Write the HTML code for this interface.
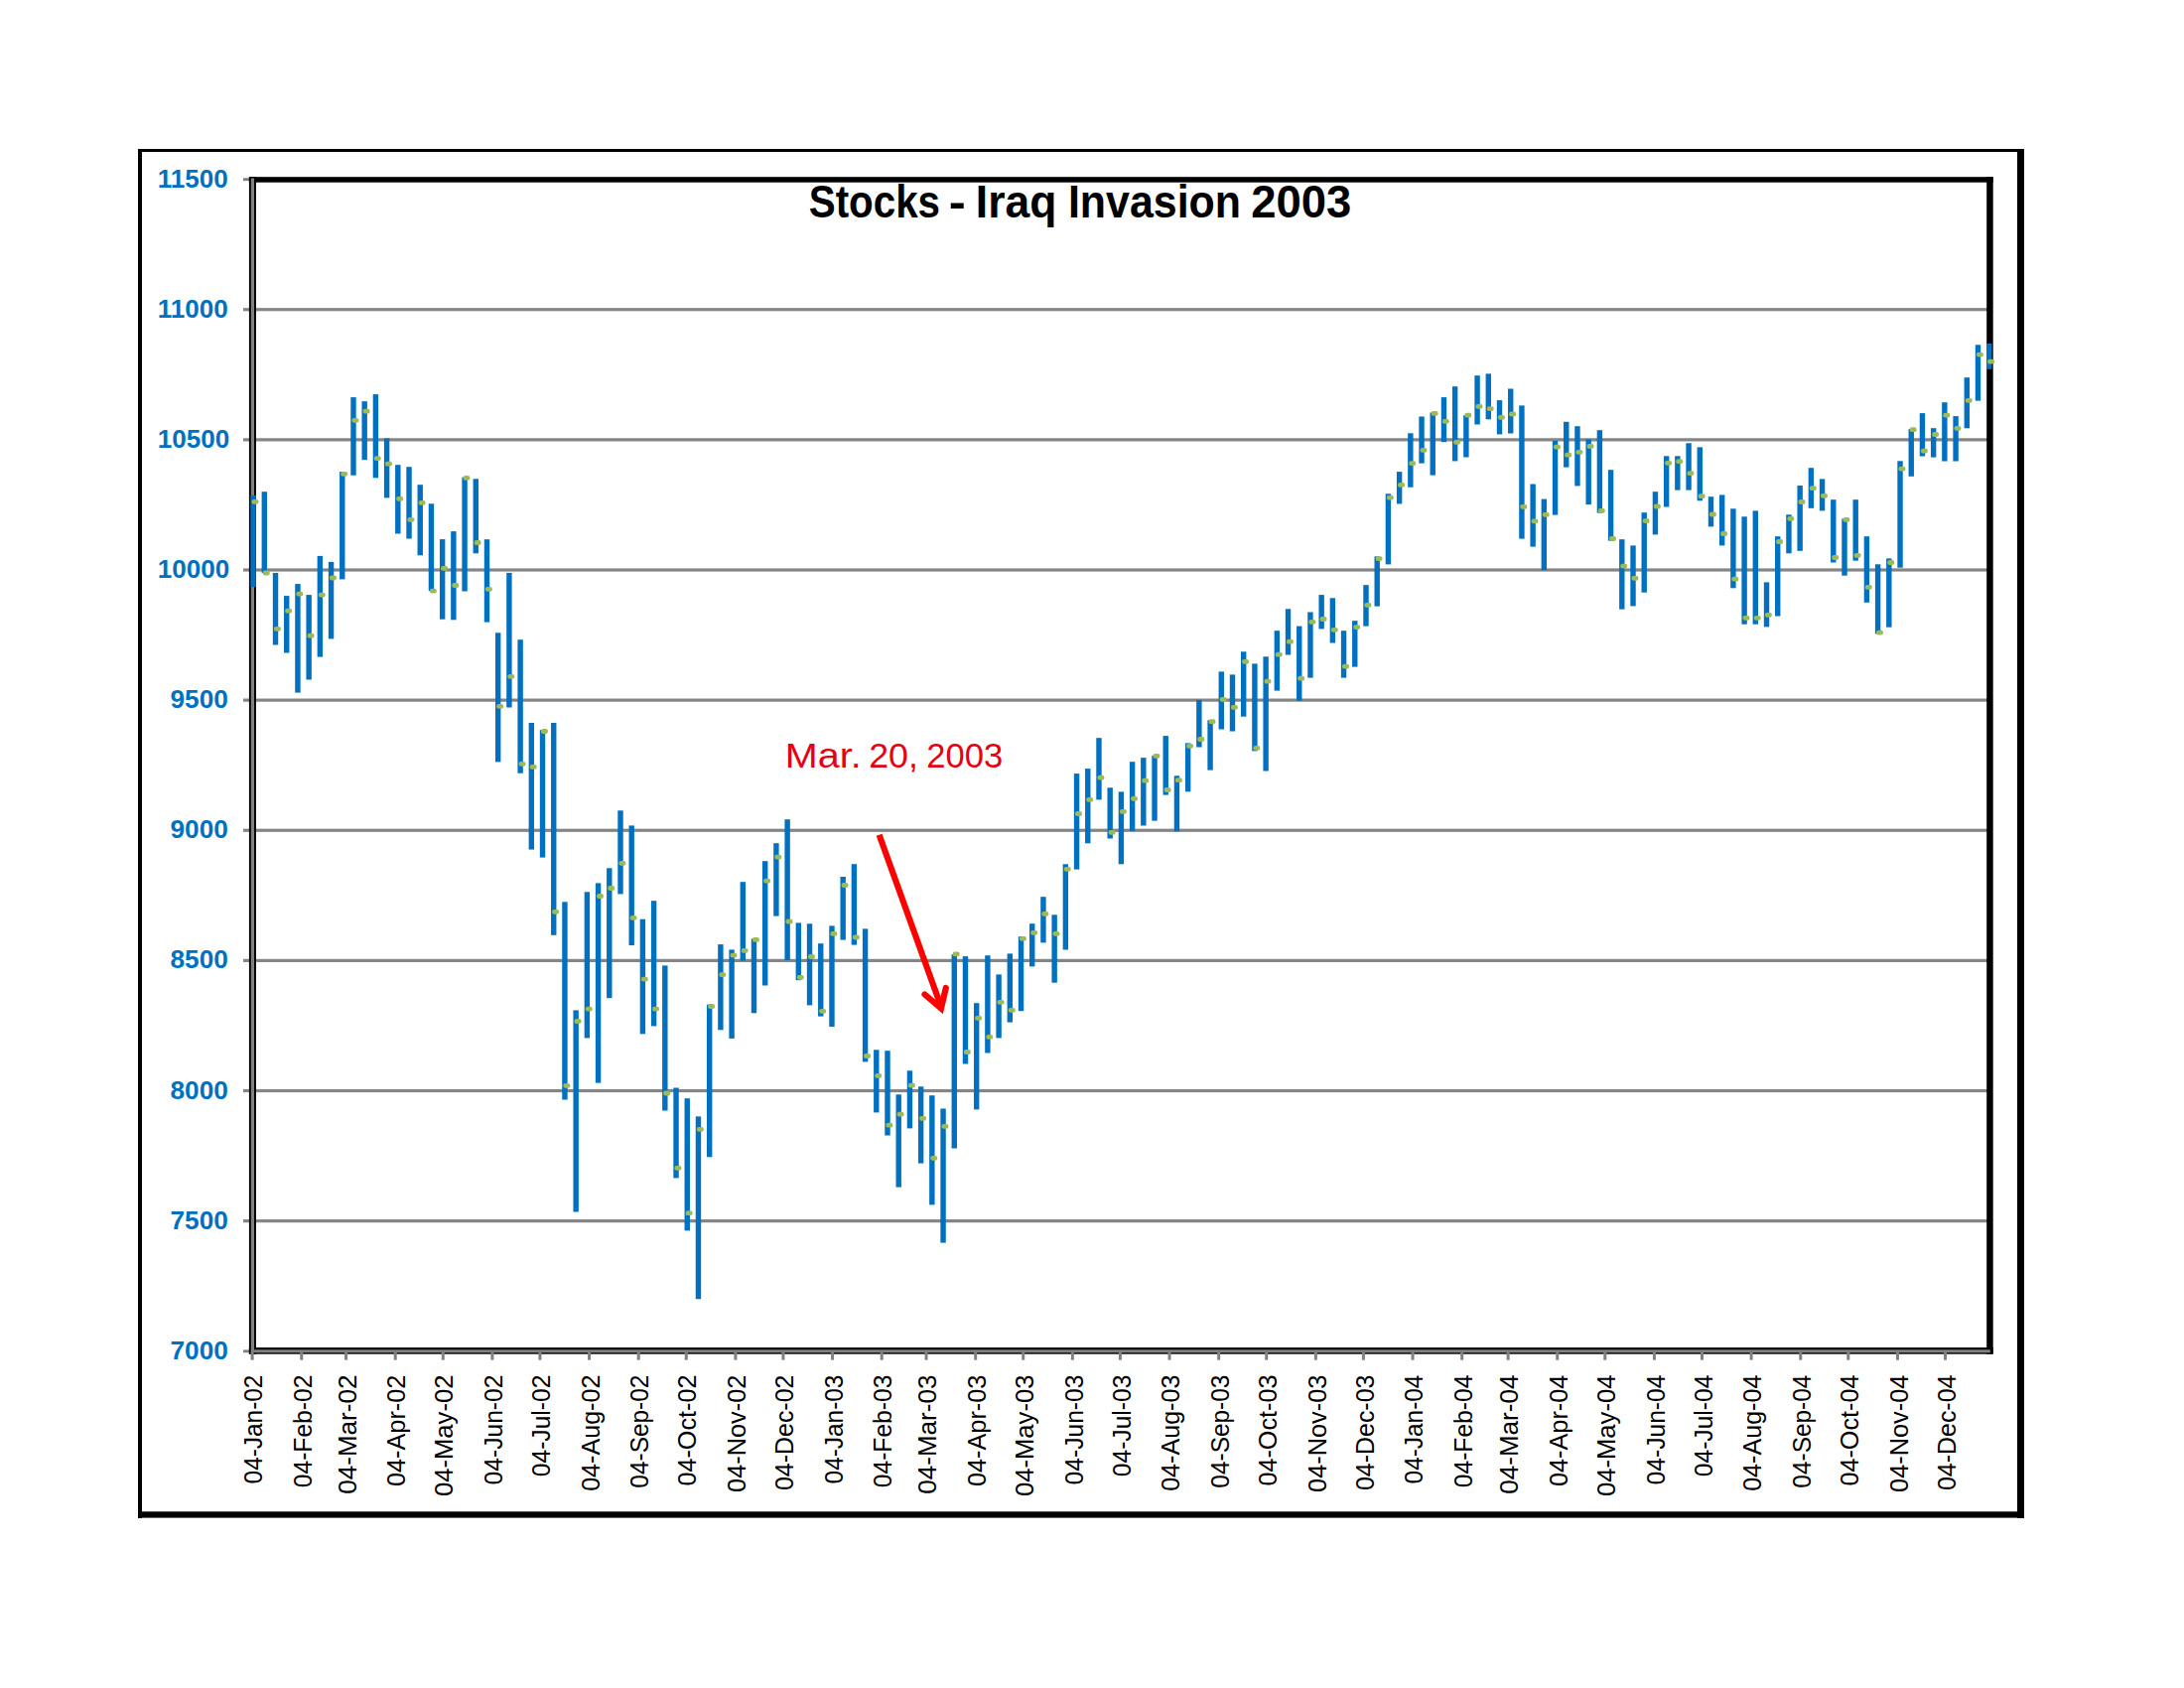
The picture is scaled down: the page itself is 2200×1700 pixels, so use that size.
<!DOCTYPE html>
<html><head><meta charset="utf-8"><title>Stocks - Iraq Invasion 2003</title>
<style>html,body{margin:0;padding:0;background:#fff;width:2200px;height:1700px;overflow:hidden}</style>
</head><body>
<svg width="2200" height="1700" viewBox="0 0 2200 1700" style="display:block">
<rect x="0" y="0" width="2200" height="1700" fill="#fff"/>
<g fill="#000">
<rect x="139" y="150" width="1900" height="3"/>
<rect x="139" y="150" width="4" height="1379"/>
<rect x="2032" y="150" width="7" height="1379"/>
<rect x="139" y="1522.3" width="1900" height="6.3"/>
</g>
<text transform="matrix(0.26031,0,0,0.25775,158.84,188.70)" x="0" y="0" font-family="'Liberation Sans', sans-serif" font-weight="bold" font-size="100" fill="#0070c0">11500</text>
<text transform="matrix(0.26031,0,0,0.25775,158.84,319.83)" x="0" y="0" font-family="'Liberation Sans', sans-serif" font-weight="bold" font-size="100" fill="#0070c0">11000</text>
<text transform="matrix(0.26031,0,0,0.25775,158.84,450.96)" x="0" y="0" font-family="'Liberation Sans', sans-serif" font-weight="bold" font-size="100" fill="#0070c0">10500</text>
<text transform="matrix(0.26031,0,0,0.25775,158.84,582.09)" x="0" y="0" font-family="'Liberation Sans', sans-serif" font-weight="bold" font-size="100" fill="#0070c0">10000</text>
<text transform="matrix(0.26168,0,0,0.25775,171.55,713.22)" x="0" y="0" font-family="'Liberation Sans', sans-serif" font-weight="bold" font-size="100" fill="#0070c0">9500</text>
<text transform="matrix(0.26168,0,0,0.25775,171.55,844.35)" x="0" y="0" font-family="'Liberation Sans', sans-serif" font-weight="bold" font-size="100" fill="#0070c0">9000</text>
<text transform="matrix(0.26168,0,0,0.25775,171.55,975.48)" x="0" y="0" font-family="'Liberation Sans', sans-serif" font-weight="bold" font-size="100" fill="#0070c0">8500</text>
<text transform="matrix(0.26168,0,0,0.25775,171.55,1106.61)" x="0" y="0" font-family="'Liberation Sans', sans-serif" font-weight="bold" font-size="100" fill="#0070c0">8000</text>
<text transform="matrix(0.26168,0,0,0.25775,171.55,1237.74)" x="0" y="0" font-family="'Liberation Sans', sans-serif" font-weight="bold" font-size="100" fill="#0070c0">7500</text>
<text transform="matrix(0.26168,0,0,0.25775,171.55,1368.87)" x="0" y="0" font-family="'Liberation Sans', sans-serif" font-weight="bold" font-size="100" fill="#0070c0">7000</text>
<g fill="#858585">
<rect x="245" y="310.13" width="1757" height="3.2"/>
<rect x="245" y="441.26" width="1757" height="3.2"/>
<rect x="245" y="572.39" width="1757" height="3.2"/>
<rect x="245" y="703.52" width="1757" height="3.2"/>
<rect x="245" y="834.65" width="1757" height="3.2"/>
<rect x="245" y="965.78" width="1757" height="3.2"/>
<rect x="245" y="1096.91" width="1757" height="3.2"/>
<rect x="245" y="1228.04" width="1757" height="3.2"/>
</g>
<rect x="245" y="179.30" width="10" height="2.8" fill="#808080"/>
<rect x="245" y="1359.47" width="10" height="2.8" fill="#808080"/>
<g fill="#000">
<rect x="250.9" y="178.2" width="1756.8" height="5.5"/>
<rect x="2001.2" y="178.2" width="6.5" height="1185.5"/>
<rect x="250.9" y="178.2" width="7.1" height="1185.5"/>
<rect x="250.9" y="1357.1" width="1756.8" height="6.6"/>
</g>
<rect x="252.8" y="179.5" width="3.2" height="1182.8" fill="#808080"/>
<rect x="252.8" y="1359.3" width="1752" height="3.0" fill="#808080"/>
<g fill="#808080">
<rect x="252.60" y="1362" width="3" height="7.7"/>
<rect x="302.24" y="1362" width="3" height="7.7"/>
<rect x="347.08" y="1362" width="3" height="7.7"/>
<rect x="396.72" y="1362" width="3" height="7.7"/>
<rect x="444.76" y="1362" width="3" height="7.7"/>
<rect x="494.40" y="1362" width="3" height="7.7"/>
<rect x="542.44" y="1362" width="3" height="7.7"/>
<rect x="592.08" y="1362" width="3" height="7.7"/>
<rect x="641.72" y="1362" width="3" height="7.7"/>
<rect x="689.75" y="1362" width="3" height="7.7"/>
<rect x="739.40" y="1362" width="3" height="7.7"/>
<rect x="787.43" y="1362" width="3" height="7.7"/>
<rect x="837.07" y="1362" width="3" height="7.7"/>
<rect x="886.71" y="1362" width="3" height="7.7"/>
<rect x="931.55" y="1362" width="3" height="7.7"/>
<rect x="981.19" y="1362" width="3" height="7.7"/>
<rect x="1029.23" y="1362" width="3" height="7.7"/>
<rect x="1078.87" y="1362" width="3" height="7.7"/>
<rect x="1126.91" y="1362" width="3" height="7.7"/>
<rect x="1176.55" y="1362" width="3" height="7.7"/>
<rect x="1226.19" y="1362" width="3" height="7.7"/>
<rect x="1274.23" y="1362" width="3" height="7.7"/>
<rect x="1323.87" y="1362" width="3" height="7.7"/>
<rect x="1371.91" y="1362" width="3" height="7.7"/>
<rect x="1421.55" y="1362" width="3" height="7.7"/>
<rect x="1471.19" y="1362" width="3" height="7.7"/>
<rect x="1517.63" y="1362" width="3" height="7.7"/>
<rect x="1567.27" y="1362" width="3" height="7.7"/>
<rect x="1615.31" y="1362" width="3" height="7.7"/>
<rect x="1664.95" y="1362" width="3" height="7.7"/>
<rect x="1712.99" y="1362" width="3" height="7.7"/>
<rect x="1762.63" y="1362" width="3" height="7.7"/>
<rect x="1812.27" y="1362" width="3" height="7.7"/>
<rect x="1860.31" y="1362" width="3" height="7.7"/>
<rect x="1909.95" y="1362" width="3" height="7.7"/>
<rect x="1957.98" y="1362" width="3" height="7.7"/>
</g>
<g font-family="'Liberation Sans', sans-serif" font-size="25" fill="#000" text-anchor="end">
<text transform="translate(264.30,1384.6) rotate(-90) scale(0.976,1)" x="0" y="0">04-Jan-02</text>
<text transform="translate(313.94,1384.6) rotate(-90) scale(0.986,1)" x="0" y="0">04-Feb-02</text>
<text transform="translate(358.78,1384.6) rotate(-90) scale(1.042,1)" x="0" y="0">04-Mar-02</text>
<text transform="translate(408.42,1384.6) rotate(-90) scale(1.012,1)" x="0" y="0">04-Apr-02</text>
<text transform="translate(456.46,1384.6) rotate(-90) scale(1.024,1)" x="0" y="0">04-May-02</text>
<text transform="translate(506.10,1384.6) rotate(-90) scale(0.985,1)" x="0" y="0">04-Jun-02</text>
<text transform="translate(554.14,1384.6) rotate(-90) scale(0.985,1)" x="0" y="0">04-Jul-02</text>
<text transform="translate(603.78,1384.6) rotate(-90) scale(1.005,1)" x="0" y="0">04-Aug-02</text>
<text transform="translate(653.42,1384.6) rotate(-90) scale(0.977,1)" x="0" y="0">04-Sep-02</text>
<text transform="translate(701.45,1384.6) rotate(-90) scale(1.007,1)" x="0" y="0">04-Oct-02</text>
<text transform="translate(751.10,1384.6) rotate(-90) scale(1.014,1)" x="0" y="0">04-Nov-02</text>
<text transform="translate(799.13,1384.6) rotate(-90) scale(0.998,1)" x="0" y="0">04-Dec-02</text>
<text transform="translate(848.77,1384.6) rotate(-90) scale(0.976,1)" x="0" y="0">04-Jan-03</text>
<text transform="translate(898.41,1384.6) rotate(-90) scale(0.986,1)" x="0" y="0">04-Feb-03</text>
<text transform="translate(943.25,1384.6) rotate(-90) scale(1.042,1)" x="0" y="0">04-Mar-03</text>
<text transform="translate(992.89,1384.6) rotate(-90) scale(1.012,1)" x="0" y="0">04-Apr-03</text>
<text transform="translate(1040.93,1384.6) rotate(-90) scale(1.024,1)" x="0" y="0">04-May-03</text>
<text transform="translate(1090.57,1384.6) rotate(-90) scale(0.985,1)" x="0" y="0">04-Jun-03</text>
<text transform="translate(1138.61,1384.6) rotate(-90) scale(0.985,1)" x="0" y="0">04-Jul-03</text>
<text transform="translate(1188.25,1384.6) rotate(-90) scale(1.005,1)" x="0" y="0">04-Aug-03</text>
<text transform="translate(1237.89,1384.6) rotate(-90) scale(0.977,1)" x="0" y="0">04-Sep-03</text>
<text transform="translate(1285.93,1384.6) rotate(-90) scale(1.007,1)" x="0" y="0">04-Oct-03</text>
<text transform="translate(1335.57,1384.6) rotate(-90) scale(1.014,1)" x="0" y="0">04-Nov-03</text>
<text transform="translate(1383.61,1384.6) rotate(-90) scale(0.998,1)" x="0" y="0">04-Dec-03</text>
<text transform="translate(1433.25,1384.6) rotate(-90) scale(0.976,1)" x="0" y="0">04-Jan-04</text>
<text transform="translate(1482.89,1384.6) rotate(-90) scale(0.986,1)" x="0" y="0">04-Feb-04</text>
<text transform="translate(1529.33,1384.6) rotate(-90) scale(1.042,1)" x="0" y="0">04-Mar-04</text>
<text transform="translate(1578.97,1384.6) rotate(-90) scale(1.012,1)" x="0" y="0">04-Apr-04</text>
<text transform="translate(1627.01,1384.6) rotate(-90) scale(1.024,1)" x="0" y="0">04-May-04</text>
<text transform="translate(1676.65,1384.6) rotate(-90) scale(0.985,1)" x="0" y="0">04-Jun-04</text>
<text transform="translate(1724.69,1384.6) rotate(-90) scale(0.985,1)" x="0" y="0">04-Jul-04</text>
<text transform="translate(1774.33,1384.6) rotate(-90) scale(1.005,1)" x="0" y="0">04-Aug-04</text>
<text transform="translate(1823.97,1384.6) rotate(-90) scale(0.977,1)" x="0" y="0">04-Sep-04</text>
<text transform="translate(1872.01,1384.6) rotate(-90) scale(1.007,1)" x="0" y="0">04-Oct-04</text>
<text transform="translate(1921.65,1384.6) rotate(-90) scale(1.014,1)" x="0" y="0">04-Nov-04</text>
<text transform="translate(1969.68,1384.6) rotate(-90) scale(0.998,1)" x="0" y="0">04-Dec-04</text>
</g>
<g fill="#0070c0">
<rect x="252.40" y="498.8" width="5.4" height="92.3"/>
<rect x="263.61" y="495.2" width="5.4" height="81.8"/>
<rect x="274.82" y="577.0" width="5.4" height="72.5"/>
<rect x="286.03" y="600.1" width="5.4" height="57.4"/>
<rect x="297.24" y="588.1" width="5.4" height="109.5"/>
<rect x="308.44" y="599.1" width="5.4" height="85.4"/>
<rect x="319.65" y="559.9" width="5.4" height="101.7"/>
<rect x="330.86" y="565.9" width="5.4" height="77.5"/>
<rect x="342.07" y="475.1" width="5.4" height="108.3"/>
<rect x="353.28" y="400.1" width="5.4" height="78.6"/>
<rect x="364.49" y="404.2" width="5.4" height="59.0"/>
<rect x="375.70" y="397.1" width="5.4" height="84.2"/>
<rect x="386.91" y="441.4" width="5.4" height="60.0"/>
<rect x="398.12" y="468.2" width="5.4" height="69.3"/>
<rect x="409.33" y="470.2" width="5.4" height="72.3"/>
<rect x="420.54" y="488.2" width="5.4" height="71.1"/>
<rect x="431.74" y="507.3" width="5.4" height="87.8"/>
<rect x="442.95" y="543.1" width="5.4" height="80.6"/>
<rect x="454.16" y="535.1" width="5.4" height="89.2"/>
<rect x="465.37" y="480.7" width="5.4" height="114.8"/>
<rect x="476.58" y="482.3" width="5.4" height="75.0"/>
<rect x="487.79" y="543.2" width="5.4" height="83.4"/>
<rect x="499.00" y="637.3" width="5.4" height="130.1"/>
<rect x="510.21" y="576.9" width="5.4" height="135.6"/>
<rect x="521.42" y="644.2" width="5.4" height="134.5"/>
<rect x="532.62" y="728.0" width="5.4" height="127.6"/>
<rect x="543.83" y="735.2" width="5.4" height="128.4"/>
<rect x="555.04" y="728.0" width="5.4" height="213.8"/>
<rect x="566.25" y="908.3" width="5.4" height="199.2"/>
<rect x="577.46" y="1017.4" width="5.4" height="203.1"/>
<rect x="588.67" y="898.3" width="5.4" height="147.1"/>
<rect x="599.88" y="889.4" width="5.4" height="201.2"/>
<rect x="611.09" y="874.3" width="5.4" height="130.9"/>
<rect x="622.30" y="816.3" width="5.4" height="84.1"/>
<rect x="633.51" y="831.4" width="5.4" height="120.6"/>
<rect x="644.71" y="925.7" width="5.4" height="115.6"/>
<rect x="655.92" y="907.2" width="5.4" height="126.2"/>
<rect x="667.13" y="972.4" width="5.4" height="146.1"/>
<rect x="678.34" y="1095.5" width="5.4" height="90.9"/>
<rect x="689.55" y="1106.2" width="5.4" height="133.2"/>
<rect x="700.76" y="1124.4" width="5.4" height="183.9"/>
<rect x="711.97" y="1011.7" width="5.4" height="153.6"/>
<rect x="723.18" y="951.1" width="5.4" height="86.2"/>
<rect x="734.39" y="956.4" width="5.4" height="89.5"/>
<rect x="745.60" y="888.2" width="5.4" height="79.4"/>
<rect x="756.80" y="945.4" width="5.4" height="74.9"/>
<rect x="768.01" y="867.2" width="5.4" height="125.3"/>
<rect x="779.22" y="849.2" width="5.4" height="73.4"/>
<rect x="790.43" y="825.2" width="5.4" height="141.9"/>
<rect x="801.64" y="929.4" width="5.4" height="57.8"/>
<rect x="812.85" y="930.3" width="5.4" height="82.1"/>
<rect x="824.06" y="950.2" width="5.4" height="73.4"/>
<rect x="835.27" y="932.4" width="5.4" height="101.6"/>
<rect x="846.48" y="883.0" width="5.4" height="63.6"/>
<rect x="857.69" y="870.2" width="5.4" height="81.4"/>
<rect x="868.89" y="935.4" width="5.4" height="134.0"/>
<rect x="880.10" y="1057.3" width="5.4" height="63.1"/>
<rect x="891.31" y="1058.2" width="5.4" height="85.3"/>
<rect x="902.52" y="1102.3" width="5.4" height="93.3"/>
<rect x="913.73" y="1078.3" width="5.4" height="58.1"/>
<rect x="924.94" y="1094.3" width="5.4" height="77.3"/>
<rect x="936.15" y="1103.2" width="5.4" height="110.2"/>
<rect x="947.36" y="1116.5" width="5.4" height="135.1"/>
<rect x="958.57" y="961.3" width="5.4" height="195.2"/>
<rect x="969.78" y="963.1" width="5.4" height="108.4"/>
<rect x="980.98" y="1010.2" width="5.4" height="107.2"/>
<rect x="992.19" y="962.2" width="5.4" height="98.3"/>
<rect x="1003.40" y="981.4" width="5.4" height="64.0"/>
<rect x="1014.61" y="960.4" width="5.4" height="69.2"/>
<rect x="1025.82" y="943.2" width="5.4" height="75.0"/>
<rect x="1037.03" y="930.2" width="5.4" height="43.2"/>
<rect x="1048.24" y="903.2" width="5.4" height="46.2"/>
<rect x="1059.45" y="921.3" width="5.4" height="68.4"/>
<rect x="1070.66" y="870.3" width="5.4" height="86.2"/>
<rect x="1081.87" y="779.1" width="5.4" height="96.5"/>
<rect x="1093.07" y="774.1" width="5.4" height="75.2"/>
<rect x="1104.28" y="743.2" width="5.4" height="62.2"/>
<rect x="1115.49" y="793.3" width="5.4" height="51.2"/>
<rect x="1126.70" y="797.4" width="5.4" height="72.9"/>
<rect x="1137.91" y="767.2" width="5.4" height="69.7"/>
<rect x="1149.12" y="763.1" width="5.4" height="68.4"/>
<rect x="1160.33" y="760.9" width="5.4" height="65.7"/>
<rect x="1171.54" y="741.1" width="5.4" height="59.5"/>
<rect x="1182.75" y="781.3" width="5.4" height="56.0"/>
<rect x="1193.96" y="748.4" width="5.4" height="48.9"/>
<rect x="1205.16" y="704.9" width="5.4" height="47.6"/>
<rect x="1216.37" y="725.3" width="5.4" height="50.3"/>
<rect x="1227.58" y="676.4" width="5.4" height="58.1"/>
<rect x="1238.79" y="679.4" width="5.4" height="57.1"/>
<rect x="1250.00" y="656.3" width="5.4" height="65.4"/>
<rect x="1261.21" y="668.4" width="5.4" height="88.0"/>
<rect x="1272.42" y="661.3" width="5.4" height="115.2"/>
<rect x="1283.63" y="635.2" width="5.4" height="60.4"/>
<rect x="1294.84" y="613.3" width="5.4" height="46.2"/>
<rect x="1306.05" y="630.6" width="5.4" height="75.2"/>
<rect x="1317.25" y="616.5" width="5.4" height="66.1"/>
<rect x="1328.46" y="599.1" width="5.4" height="34.3"/>
<rect x="1339.67" y="602.3" width="5.4" height="45.2"/>
<rect x="1350.88" y="635.2" width="5.4" height="47.4"/>
<rect x="1362.09" y="625.2" width="5.4" height="46.4"/>
<rect x="1373.30" y="589.2" width="5.4" height="41.4"/>
<rect x="1384.51" y="560.4" width="5.4" height="50.2"/>
<rect x="1395.72" y="497.3" width="5.4" height="71.1"/>
<rect x="1406.93" y="475.1" width="5.4" height="32.3"/>
<rect x="1418.14" y="436.3" width="5.4" height="54.4"/>
<rect x="1429.34" y="419.5" width="5.4" height="47.1"/>
<rect x="1440.55" y="415.5" width="5.4" height="63.1"/>
<rect x="1451.76" y="400.1" width="5.4" height="45.1"/>
<rect x="1462.97" y="389.2" width="5.4" height="75.2"/>
<rect x="1474.18" y="418.2" width="5.4" height="42.3"/>
<rect x="1485.39" y="378.2" width="5.4" height="49.3"/>
<rect x="1496.60" y="376.4" width="5.4" height="45.9"/>
<rect x="1507.81" y="403.1" width="5.4" height="34.3"/>
<rect x="1519.02" y="391.5" width="5.4" height="45.0"/>
<rect x="1530.23" y="408.4" width="5.4" height="134.2"/>
<rect x="1541.43" y="487.5" width="5.4" height="63.1"/>
<rect x="1552.64" y="502.6" width="5.4" height="71.7"/>
<rect x="1563.85" y="444.0" width="5.4" height="74.6"/>
<rect x="1575.06" y="424.8" width="5.4" height="45.8"/>
<rect x="1586.27" y="429.2" width="5.4" height="60.2"/>
<rect x="1597.48" y="442.4" width="5.4" height="65.8"/>
<rect x="1608.69" y="433.2" width="5.4" height="83.4"/>
<rect x="1619.90" y="473.2" width="5.4" height="71.4"/>
<rect x="1631.11" y="543.2" width="5.4" height="70.4"/>
<rect x="1642.32" y="549.4" width="5.4" height="61.0"/>
<rect x="1653.52" y="516.2" width="5.4" height="80.5"/>
<rect x="1664.73" y="495.2" width="5.4" height="43.2"/>
<rect x="1675.94" y="459.3" width="5.4" height="51.2"/>
<rect x="1687.15" y="459.3" width="5.4" height="34.3"/>
<rect x="1698.36" y="446.3" width="5.4" height="47.3"/>
<rect x="1709.57" y="450.4" width="5.4" height="53.9"/>
<rect x="1720.78" y="500.2" width="5.4" height="30.2"/>
<rect x="1731.99" y="498.4" width="5.4" height="51.0"/>
<rect x="1743.20" y="512.3" width="5.4" height="80.0"/>
<rect x="1754.41" y="520.3" width="5.4" height="108.4"/>
<rect x="1765.61" y="514.4" width="5.4" height="114.3"/>
<rect x="1776.82" y="586.4" width="5.4" height="45.0"/>
<rect x="1788.03" y="540.2" width="5.4" height="80.3"/>
<rect x="1799.24" y="518.3" width="5.4" height="39.0"/>
<rect x="1810.45" y="489.0" width="5.4" height="65.8"/>
<rect x="1821.66" y="471.2" width="5.4" height="40.6"/>
<rect x="1832.87" y="482.4" width="5.4" height="32.0"/>
<rect x="1844.08" y="503.2" width="5.4" height="63.3"/>
<rect x="1855.29" y="522.4" width="5.4" height="57.3"/>
<rect x="1866.50" y="503.2" width="5.4" height="61.5"/>
<rect x="1877.70" y="540.2" width="5.4" height="66.6"/>
<rect x="1888.91" y="568.3" width="5.4" height="70.0"/>
<rect x="1900.12" y="562.4" width="5.4" height="69.3"/>
<rect x="1911.33" y="464.3" width="5.4" height="107.4"/>
<rect x="1922.54" y="432.1" width="5.4" height="47.7"/>
<rect x="1933.75" y="416.1" width="5.4" height="43.4"/>
<rect x="1944.96" y="431.2" width="5.4" height="29.4"/>
<rect x="1956.17" y="405.2" width="5.4" height="59.3"/>
<rect x="1967.38" y="419.1" width="5.4" height="45.4"/>
<rect x="1978.59" y="380.2" width="5.4" height="51.1"/>
<rect x="1989.79" y="347.3" width="5.4" height="56.3"/>
<rect x="2001.00" y="346.0" width="5.4" height="25.8"/>
</g>
<g fill="#9bbb59">
<rect x="253.50" y="502.9" width="7" height="4.8" rx="2.2" ry="2.2"/>
<rect x="264.71" y="574.6" width="7" height="4.8" rx="2.2" ry="2.2"/>
<rect x="275.92" y="631.0" width="7" height="4.8" rx="2.2" ry="2.2"/>
<rect x="287.13" y="612.8" width="7" height="4.8" rx="2.2" ry="2.2"/>
<rect x="298.34" y="595.7" width="7" height="4.8" rx="2.2" ry="2.2"/>
<rect x="309.54" y="637.8" width="7" height="4.8" rx="2.2" ry="2.2"/>
<rect x="320.75" y="596.7" width="7" height="4.8" rx="2.2" ry="2.2"/>
<rect x="331.96" y="579.6" width="7" height="4.8" rx="2.2" ry="2.2"/>
<rect x="343.17" y="474.9" width="7" height="4.8" rx="2.2" ry="2.2"/>
<rect x="354.38" y="420.9" width="7" height="4.8" rx="2.2" ry="2.2"/>
<rect x="365.59" y="411.8" width="7" height="4.8" rx="2.2" ry="2.2"/>
<rect x="376.80" y="459.2" width="7" height="4.8" rx="2.2" ry="2.2"/>
<rect x="388.01" y="464.8" width="7" height="4.8" rx="2.2" ry="2.2"/>
<rect x="399.22" y="499.9" width="7" height="4.8" rx="2.2" ry="2.2"/>
<rect x="410.43" y="521.0" width="7" height="4.8" rx="2.2" ry="2.2"/>
<rect x="421.63" y="503.9" width="7" height="4.8" rx="2.2" ry="2.2"/>
<rect x="432.84" y="592.7" width="7" height="4.8" rx="2.2" ry="2.2"/>
<rect x="444.05" y="569.9" width="7" height="4.8" rx="2.2" ry="2.2"/>
<rect x="455.26" y="587.1" width="7" height="4.8" rx="2.2" ry="2.2"/>
<rect x="466.47" y="478.9" width="7" height="4.8" rx="2.2" ry="2.2"/>
<rect x="477.68" y="544.1" width="7" height="4.8" rx="2.2" ry="2.2"/>
<rect x="488.89" y="591.0" width="7" height="4.8" rx="2.2" ry="2.2"/>
<rect x="500.10" y="709.0" width="7" height="4.8" rx="2.2" ry="2.2"/>
<rect x="511.31" y="679.0" width="7" height="4.8" rx="2.2" ry="2.2"/>
<rect x="522.52" y="767.0" width="7" height="4.8" rx="2.2" ry="2.2"/>
<rect x="533.72" y="770.0" width="7" height="4.8" rx="2.2" ry="2.2"/>
<rect x="544.93" y="734.1" width="7" height="4.8" rx="2.2" ry="2.2"/>
<rect x="556.14" y="915.9" width="7" height="4.8" rx="2.2" ry="2.2"/>
<rect x="567.35" y="1090.9" width="7" height="4.8" rx="2.2" ry="2.2"/>
<rect x="578.56" y="1026.1" width="7" height="4.8" rx="2.2" ry="2.2"/>
<rect x="589.77" y="1013.7" width="7" height="4.8" rx="2.2" ry="2.2"/>
<rect x="600.98" y="900.1" width="7" height="4.8" rx="2.2" ry="2.2"/>
<rect x="612.19" y="892.1" width="7" height="4.8" rx="2.2" ry="2.2"/>
<rect x="623.40" y="866.9" width="7" height="4.8" rx="2.2" ry="2.2"/>
<rect x="634.61" y="922.0" width="7" height="4.8" rx="2.2" ry="2.2"/>
<rect x="645.81" y="983.7" width="7" height="4.8" rx="2.2" ry="2.2"/>
<rect x="657.02" y="1013.7" width="7" height="4.8" rx="2.2" ry="2.2"/>
<rect x="668.23" y="1098.6" width="7" height="4.8" rx="2.2" ry="2.2"/>
<rect x="679.44" y="1173.9" width="7" height="4.8" rx="2.2" ry="2.2"/>
<rect x="690.65" y="1219.3" width="7" height="4.8" rx="2.2" ry="2.2"/>
<rect x="701.86" y="1135.0" width="7" height="4.8" rx="2.2" ry="2.2"/>
<rect x="713.07" y="1011.1" width="7" height="4.8" rx="2.2" ry="2.2"/>
<rect x="724.28" y="979.2" width="7" height="4.8" rx="2.2" ry="2.2"/>
<rect x="735.49" y="959.7" width="7" height="4.8" rx="2.2" ry="2.2"/>
<rect x="746.70" y="954.9" width="7" height="4.8" rx="2.2" ry="2.2"/>
<rect x="757.90" y="943.9" width="7" height="4.8" rx="2.2" ry="2.2"/>
<rect x="769.11" y="884.7" width="7" height="4.8" rx="2.2" ry="2.2"/>
<rect x="780.32" y="860.7" width="7" height="4.8" rx="2.2" ry="2.2"/>
<rect x="791.53" y="925.6" width="7" height="4.8" rx="2.2" ry="2.2"/>
<rect x="802.74" y="981.9" width="7" height="4.8" rx="2.2" ry="2.2"/>
<rect x="813.95" y="961.1" width="7" height="4.8" rx="2.2" ry="2.2"/>
<rect x="825.16" y="1015.9" width="7" height="4.8" rx="2.2" ry="2.2"/>
<rect x="836.37" y="938.0" width="7" height="4.8" rx="2.2" ry="2.2"/>
<rect x="847.58" y="889.1" width="7" height="4.8" rx="2.2" ry="2.2"/>
<rect x="858.79" y="941.6" width="7" height="4.8" rx="2.2" ry="2.2"/>
<rect x="870.00" y="1061.1" width="7" height="4.8" rx="2.2" ry="2.2"/>
<rect x="881.20" y="1080.9" width="7" height="4.8" rx="2.2" ry="2.2"/>
<rect x="892.41" y="1130.8" width="7" height="4.8" rx="2.2" ry="2.2"/>
<rect x="903.62" y="1119.8" width="7" height="4.8" rx="2.2" ry="2.2"/>
<rect x="914.83" y="1090.7" width="7" height="4.8" rx="2.2" ry="2.2"/>
<rect x="926.04" y="1123.9" width="7" height="4.8" rx="2.2" ry="2.2"/>
<rect x="937.25" y="1163.9" width="7" height="4.8" rx="2.2" ry="2.2"/>
<rect x="948.46" y="1131.9" width="7" height="4.8" rx="2.2" ry="2.2"/>
<rect x="959.67" y="958.5" width="7" height="4.8" rx="2.2" ry="2.2"/>
<rect x="970.88" y="1057.1" width="7" height="4.8" rx="2.2" ry="2.2"/>
<rect x="982.08" y="1022.9" width="7" height="4.8" rx="2.2" ry="2.2"/>
<rect x="993.29" y="1042.0" width="7" height="4.8" rx="2.2" ry="2.2"/>
<rect x="1004.50" y="1006.9" width="7" height="4.8" rx="2.2" ry="2.2"/>
<rect x="1015.71" y="1014.9" width="7" height="4.8" rx="2.2" ry="2.2"/>
<rect x="1026.92" y="942.9" width="7" height="4.8" rx="2.2" ry="2.2"/>
<rect x="1038.13" y="937.0" width="7" height="4.8" rx="2.2" ry="2.2"/>
<rect x="1049.34" y="918.0" width="7" height="4.8" rx="2.2" ry="2.2"/>
<rect x="1060.55" y="937.9" width="7" height="4.8" rx="2.2" ry="2.2"/>
<rect x="1071.76" y="873.0" width="7" height="4.8" rx="2.2" ry="2.2"/>
<rect x="1082.97" y="817.1" width="7" height="4.8" rx="2.2" ry="2.2"/>
<rect x="1094.17" y="803.0" width="7" height="4.8" rx="2.2" ry="2.2"/>
<rect x="1105.38" y="780.8" width="7" height="4.8" rx="2.2" ry="2.2"/>
<rect x="1116.59" y="835.9" width="7" height="4.8" rx="2.2" ry="2.2"/>
<rect x="1127.80" y="814.9" width="7" height="4.8" rx="2.2" ry="2.2"/>
<rect x="1139.01" y="801.9" width="7" height="4.8" rx="2.2" ry="2.2"/>
<rect x="1150.22" y="783.8" width="7" height="4.8" rx="2.2" ry="2.2"/>
<rect x="1161.43" y="759.0" width="7" height="4.8" rx="2.2" ry="2.2"/>
<rect x="1172.64" y="793.1" width="7" height="4.8" rx="2.2" ry="2.2"/>
<rect x="1183.85" y="783.3" width="7" height="4.8" rx="2.2" ry="2.2"/>
<rect x="1195.06" y="749.0" width="7" height="4.8" rx="2.2" ry="2.2"/>
<rect x="1206.27" y="742.1" width="7" height="4.8" rx="2.2" ry="2.2"/>
<rect x="1217.47" y="724.3" width="7" height="4.8" rx="2.2" ry="2.2"/>
<rect x="1228.68" y="701.9" width="7" height="4.8" rx="2.2" ry="2.2"/>
<rect x="1239.89" y="709.9" width="7" height="4.8" rx="2.2" ry="2.2"/>
<rect x="1251.10" y="663.9" width="7" height="4.8" rx="2.2" ry="2.2"/>
<rect x="1262.31" y="751.0" width="7" height="4.8" rx="2.2" ry="2.2"/>
<rect x="1273.52" y="683.8" width="7" height="4.8" rx="2.2" ry="2.2"/>
<rect x="1284.73" y="656.8" width="7" height="4.8" rx="2.2" ry="2.2"/>
<rect x="1295.94" y="643.8" width="7" height="4.8" rx="2.2" ry="2.2"/>
<rect x="1307.15" y="680.8" width="7" height="4.8" rx="2.2" ry="2.2"/>
<rect x="1318.36" y="623.9" width="7" height="4.8" rx="2.2" ry="2.2"/>
<rect x="1329.56" y="621.1" width="7" height="4.8" rx="2.2" ry="2.2"/>
<rect x="1340.77" y="631.9" width="7" height="4.8" rx="2.2" ry="2.2"/>
<rect x="1351.98" y="668.7" width="7" height="4.8" rx="2.2" ry="2.2"/>
<rect x="1363.19" y="629.2" width="7" height="4.8" rx="2.2" ry="2.2"/>
<rect x="1374.40" y="607.0" width="7" height="4.8" rx="2.2" ry="2.2"/>
<rect x="1385.61" y="560.2" width="7" height="4.8" rx="2.2" ry="2.2"/>
<rect x="1396.82" y="498.8" width="7" height="4.8" rx="2.2" ry="2.2"/>
<rect x="1408.03" y="486.0" width="7" height="4.8" rx="2.2" ry="2.2"/>
<rect x="1419.24" y="464.2" width="7" height="4.8" rx="2.2" ry="2.2"/>
<rect x="1430.44" y="451.0" width="7" height="4.8" rx="2.2" ry="2.2"/>
<rect x="1441.65" y="414.0" width="7" height="4.8" rx="2.2" ry="2.2"/>
<rect x="1452.86" y="422.0" width="7" height="4.8" rx="2.2" ry="2.2"/>
<rect x="1464.07" y="443.0" width="7" height="4.8" rx="2.2" ry="2.2"/>
<rect x="1475.28" y="415.8" width="7" height="4.8" rx="2.2" ry="2.2"/>
<rect x="1486.49" y="406.9" width="7" height="4.8" rx="2.2" ry="2.2"/>
<rect x="1497.70" y="409.2" width="7" height="4.8" rx="2.2" ry="2.2"/>
<rect x="1508.91" y="417.9" width="7" height="4.8" rx="2.2" ry="2.2"/>
<rect x="1520.12" y="414.6" width="7" height="4.8" rx="2.2" ry="2.2"/>
<rect x="1531.33" y="507.9" width="7" height="4.8" rx="2.2" ry="2.2"/>
<rect x="1542.53" y="522.5" width="7" height="4.8" rx="2.2" ry="2.2"/>
<rect x="1553.74" y="515.9" width="7" height="4.8" rx="2.2" ry="2.2"/>
<rect x="1564.95" y="447.8" width="7" height="4.8" rx="2.2" ry="2.2"/>
<rect x="1576.16" y="455.8" width="7" height="4.8" rx="2.2" ry="2.2"/>
<rect x="1587.37" y="452.9" width="7" height="4.8" rx="2.2" ry="2.2"/>
<rect x="1598.58" y="447.1" width="7" height="4.8" rx="2.2" ry="2.2"/>
<rect x="1609.79" y="512.0" width="7" height="4.8" rx="2.2" ry="2.2"/>
<rect x="1621.00" y="540.1" width="7" height="4.8" rx="2.2" ry="2.2"/>
<rect x="1632.21" y="567.7" width="7" height="4.8" rx="2.2" ry="2.2"/>
<rect x="1643.42" y="579.9" width="7" height="4.8" rx="2.2" ry="2.2"/>
<rect x="1654.62" y="522.2" width="7" height="4.8" rx="2.2" ry="2.2"/>
<rect x="1665.83" y="507.6" width="7" height="4.8" rx="2.2" ry="2.2"/>
<rect x="1677.04" y="464.0" width="7" height="4.8" rx="2.2" ry="2.2"/>
<rect x="1688.25" y="462.3" width="7" height="4.8" rx="2.2" ry="2.2"/>
<rect x="1699.46" y="474.2" width="7" height="4.8" rx="2.2" ry="2.2"/>
<rect x="1710.67" y="497.3" width="7" height="4.8" rx="2.2" ry="2.2"/>
<rect x="1721.88" y="515.6" width="7" height="4.8" rx="2.2" ry="2.2"/>
<rect x="1733.09" y="535.1" width="7" height="4.8" rx="2.2" ry="2.2"/>
<rect x="1744.30" y="580.8" width="7" height="4.8" rx="2.2" ry="2.2"/>
<rect x="1755.51" y="619.9" width="7" height="4.8" rx="2.2" ry="2.2"/>
<rect x="1766.71" y="619.9" width="7" height="4.8" rx="2.2" ry="2.2"/>
<rect x="1777.92" y="616.9" width="7" height="4.8" rx="2.2" ry="2.2"/>
<rect x="1789.13" y="543.1" width="7" height="4.8" rx="2.2" ry="2.2"/>
<rect x="1800.34" y="520.0" width="7" height="4.8" rx="2.2" ry="2.2"/>
<rect x="1811.55" y="503.1" width="7" height="4.8" rx="2.2" ry="2.2"/>
<rect x="1822.76" y="489.3" width="7" height="4.8" rx="2.2" ry="2.2"/>
<rect x="1833.97" y="496.9" width="7" height="4.8" rx="2.2" ry="2.2"/>
<rect x="1845.18" y="559.1" width="7" height="4.8" rx="2.2" ry="2.2"/>
<rect x="1856.39" y="520.9" width="7" height="4.8" rx="2.2" ry="2.2"/>
<rect x="1867.60" y="557.0" width="7" height="4.8" rx="2.2" ry="2.2"/>
<rect x="1878.80" y="589.0" width="7" height="4.8" rx="2.2" ry="2.2"/>
<rect x="1890.01" y="634.7" width="7" height="4.8" rx="2.2" ry="2.2"/>
<rect x="1901.22" y="564.1" width="7" height="4.8" rx="2.2" ry="2.2"/>
<rect x="1912.43" y="469.7" width="7" height="4.8" rx="2.2" ry="2.2"/>
<rect x="1923.64" y="430.3" width="7" height="4.8" rx="2.2" ry="2.2"/>
<rect x="1934.85" y="451.8" width="7" height="4.8" rx="2.2" ry="2.2"/>
<rect x="1946.06" y="435.1" width="7" height="4.8" rx="2.2" ry="2.2"/>
<rect x="1957.27" y="415.7" width="7" height="4.8" rx="2.2" ry="2.2"/>
<rect x="1968.48" y="428.9" width="7" height="4.8" rx="2.2" ry="2.2"/>
<rect x="1979.69" y="400.9" width="7" height="4.8" rx="2.2" ry="2.2"/>
<rect x="1990.89" y="354.7" width="7" height="4.8" rx="2.2" ry="2.2"/>
<rect x="2002.10" y="361.8" width="7" height="4.8" rx="2.2" ry="2.2"/>
</g>
<text transform="matrix(0.40343,0,0,0.46522,814.79,219.20)" x="0" y="0" font-family="'Liberation Sans', sans-serif" font-weight="bold" font-size="100" fill="#000">Stocks</text>
<text transform="matrix(0.51200,0,0,0.46522,955.65,219.20)" x="0" y="0" font-family="'Liberation Sans', sans-serif" font-weight="bold" font-size="100" fill="#000">-</text>
<text transform="matrix(0.44471,0,0,0.46522,982.79,219.20)" x="0" y="0" font-family="'Liberation Sans', sans-serif" font-weight="bold" font-size="100" fill="#000">Iraq</text>
<text transform="matrix(0.42934,0,0,0.46522,1075.89,219.20)" x="0" y="0" font-family="'Liberation Sans', sans-serif" font-weight="bold" font-size="100" fill="#000">Invasion</text>
<text transform="matrix(0.45463,0,0,0.46522,1260.24,219.20)" x="0" y="0" font-family="'Liberation Sans', sans-serif" font-weight="bold" font-size="100" fill="#000">2003</text>
<text transform="matrix(0.39605,0,0,0.35507,790.73,773.00)" x="0" y="0" font-family="'Liberation Sans', sans-serif" font-weight="normal" font-size="100" fill="#e60012">Mar.</text>
<text transform="matrix(0.35760,0,0,0.35507,875.21,773.00)" x="0" y="0" font-family="'Liberation Sans', sans-serif" font-weight="normal" font-size="100" fill="#e60012">20,</text>
<text transform="matrix(0.34648,0,0,0.35507,933.17,773.00)" x="0" y="0" font-family="'Liberation Sans', sans-serif" font-weight="normal" font-size="100" fill="#e60012">2003</text>
<g stroke="#ff0000" stroke-width="6.2" fill="none">
<line x1="885.6" y1="840.8" x2="946.6" y2="1010" stroke-linecap="butt"/>
<polyline points="931.5,1001.5 948,1015.5 952.8,995" stroke-linecap="round" stroke-linejoin="miter" stroke-miterlimit="10"/>
</g>
</svg>
</body></html>
